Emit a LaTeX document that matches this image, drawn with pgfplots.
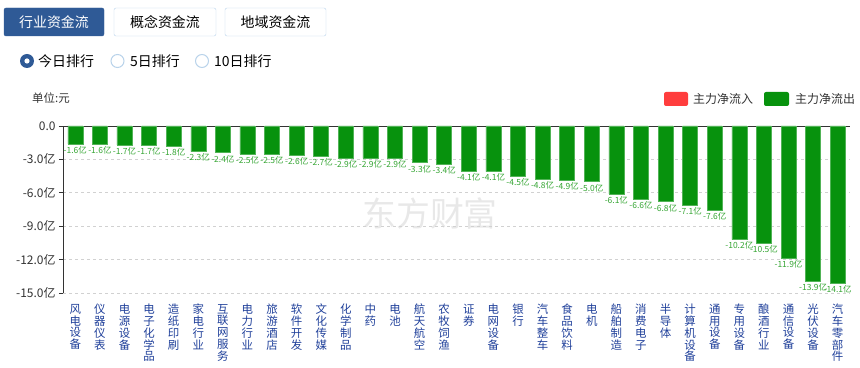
\documentclass[border=0pt]{standalone}
\usepackage{fontspec}
\setmainfont{Noto Sans CJK SC}
\usepackage{pgfplots}
\pgfplotsset{compat=1.18}
\definecolor{btnblue}{HTML}{2F5A96}
\definecolor{btnborder}{HTML}{B9D3EA}
\definecolor{bargreen}{HTML}{07920D}
\definecolor{lblgreen}{HTML}{35A533}
\definecolor{ticklblue}{HTML}{20409A}
\definecolor{legred}{HTML}{FF3D3D}
\definecolor{axdark}{HTML}{333333}
\begin{document}
\begin{tikzpicture}
\path (0bp,0bp) rectangle (860bp,368bp);
% top buttons
\draw[fill=btnblue,draw=btnblue,rounded corners=2bp] (4bp,360bp) rectangle (104bp,332bp);
\node[text=white,font=\fontsize{14}{14}\selectfont] at (54bp,346bp) {行业资金流};
\draw[fill=white,draw=btnborder,rounded corners=2bp] (114bp,360bp) rectangle (216bp,332bp);
\node[font=\fontsize{14}{14}\selectfont] at (165bp,346bp) {概念资金流};
\draw[fill=white,draw=btnborder,rounded corners=2bp] (225bp,360bp) rectangle (326bp,332bp);
\node[font=\fontsize{14}{14}\selectfont] at (275.5bp,346bp) {地域资金流};
% radio buttons
\fill[btnblue] (27bp,307bp) circle (7bp);
\fill[white] (27bp,307bp) circle (2.6bp);
\node[anchor=west,font=\fontsize{14}{14}\selectfont,inner sep=0] at (38bp,307bp) {今日排行};
\draw[btnborder,line width=1bp] (117.5bp,307bp) circle (6.5bp);
\node[anchor=west,font=\fontsize{14}{14}\selectfont,inner sep=0] at (130bp,307bp) {5日排行};
\draw[btnborder,line width=1bp] (202bp,307bp) circle (6.5bp);
\node[anchor=west,font=\fontsize{14}{14}\selectfont,inner sep=0] at (214bp,307bp) {10日排行};
% unit
\node[anchor=west,font=\fontsize{11.5}{11.5}\selectfont,text=axdark,inner sep=0] at (32bp,270bp) {单位:元};
% legend
\fill[legred,rounded corners=2bp] (664bp,276bp) rectangle (688bp,262bp);
\node[anchor=west,font=\fontsize{12}{12}\selectfont,text=axdark,inner sep=0] at (693bp,269bp) {主力净流入};
\fill[bargreen,rounded corners=2bp] (764bp,276bp) rectangle (789bp,262bp);
\node[anchor=west,font=\fontsize{12}{12}\selectfont,text=axdark,inner sep=0] at (795bp,269bp) {主力净流出};
% watermark
\node[text=black!9,font=\fontsize{34}{34}\selectfont] at (430bp,155bp) {东方财富};
\begin{axis}[
  at={(63bp,75bp)}, anchor=south west,
  scale only axis, width=787bp, height=167bp,
  xmin=-0.5, xmax=31.5, ymin=-15, ymax=0,
  axis x line*=bottom, axis y line*=left,
  x axis line style={draw=none},
  y axis line style={draw=axdark, line width=0.8bp},
  xtick=data,
  xtick style={draw=none},
  xticklabels={{风\\电\\设\\备},{仪\\器\\仪\\表},{电\\源\\设\\备},{电\\子\\化\\学\\品},{造\\纸\\印\\刷},{家\\电\\行\\业},{互\\联\\网\\服\\务},{电\\力\\行\\业},{旅\\游\\酒\\店},{软\\件\\开\\发},{文\\化\\传\\媒},{化\\学\\制\\品},{中\\药},{电\\池},{航\\天\\航\\空},{农\\牧\\饲\\渔},{证\\券},{电\\网\\设\\备},{银\\行},{汽\\车\\整\\车},{食\\品\\饮\\料},{电\\机},{船\\舶\\制\\造},{消\\费\\电\\子},{半\\导\\体},{计\\算\\机\\设\\备},{通\\用\\设\\备},{专\\用\\设\\备},{酿\\酒\\行\\业},{通\\信\\设\\备},{光\\伏\\设\\备},{汽\\车\\零\\部\\件}},
  xticklabel style={align=center, anchor=north, text=ticklblue, font=\fontsize{11.5}{11.8}\selectfont, inner sep=0pt, yshift=-7bp},
  ytick={0,-3,-6,-9,-12,-15},
  yticklabels={0.0,-3.0亿,-6.0亿,-9.0亿,-12.0亿,-15.0亿},
  yticklabel style={text=axdark, font=\fontsize{12}{12}\selectfont},
  ytick style={draw=axdark, line width=0.6bp},
  tick align=outside, major tick length=4bp,
  ymajorgrids, major grid style={draw=black!18, dash pattern=on 3bp off 3bp, line width=0.6bp},
  extra y ticks={0}, extra y tick labels={},
  extra y tick style={grid=major, major grid style={draw=axdark, solid, line width=0.8bp}, tick style={draw=none}},
  ybar, bar width=15bp,
  nodes near coords={\pgfmathprintnumber[fixed,fixed zerofill,precision=1,assume math mode=true]{\pgfplotspointmeta}亿},
  every node near coord/.append style={anchor=north, text=lblgreen, font=\fontsize{8.5}{8.5}\selectfont, inner sep=2bp},
  clip=false,
]
\addplot[fill=bargreen, draw=bargreen!70!white, line width=0.5bp] coordinates {
(0,-1.6) (1,-1.6) (2,-1.7) (3,-1.7) (4,-1.8) (5,-2.3) (6,-2.4) (7,-2.5) (8,-2.5) (9,-2.6)
(10,-2.7) (11,-2.9) (12,-2.9) (13,-2.9) (14,-3.3) (15,-3.4) (16,-4.1) (17,-4.1) (18,-4.5) (19,-4.8)
(20,-4.9) (21,-5.0) (22,-6.1) (23,-6.6) (24,-6.8) (25,-7.1) (26,-7.6) (27,-10.2) (28,-10.5) (29,-11.9)
(30,-13.9) (31,-14.1)};
\end{axis}
\end{tikzpicture}
\end{document}
